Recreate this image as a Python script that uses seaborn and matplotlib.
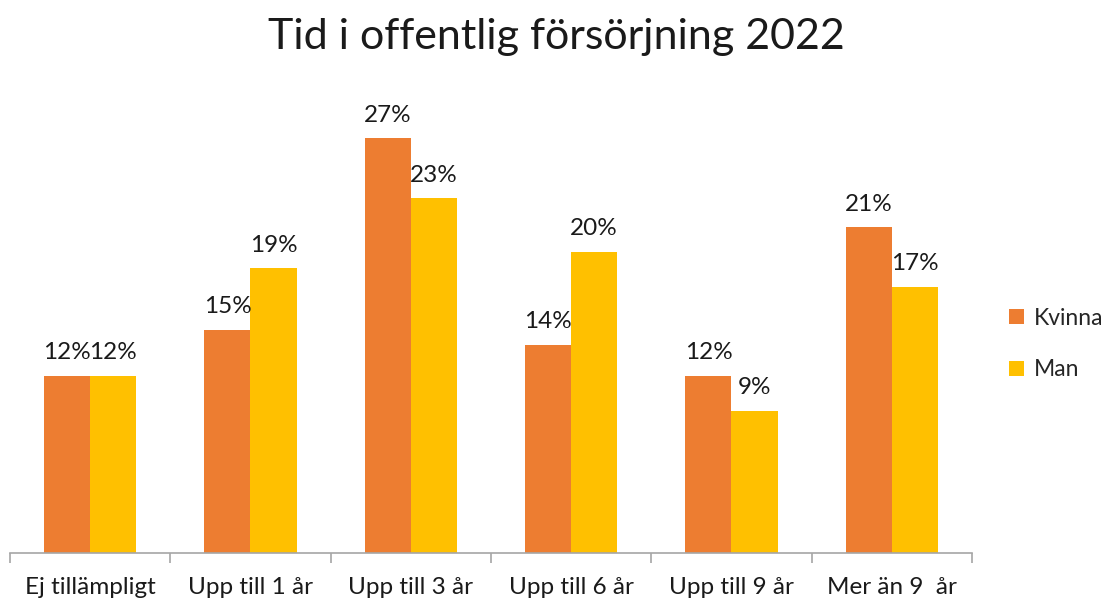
import pandas as pd
import matplotlib
matplotlib.use("Agg")
import matplotlib.pyplot as plt
import seaborn as sns

# ── Data ──────────────────────────────────────────────────────────────────────
kategorier = ["Ej tillämpligt", "Upp till 1 år", "Upp till 3 år",
              "Upp till 6 år", "Upp till 9 år", "Mer än 9  år"]
kvinna = [11.6, 14.6, 27.1, 13.6, 11.6, 21.3]
man    = [11.6, 18.6, 23.2, 19.7, 9.3, 17.4]
serier = ["Kvinna", "Man"]
farger = ["#ED7D31", "#FFC000"]

df = pd.DataFrame({
    "kategori": kategorier * 2,
    "kon": [serier[0]] * len(kvinna) + [serier[1]] * len(man),
    "andel": kvinna + man,
})

sns.set_theme(style="white")
plt.rcParams["font.family"] = ["Lato", "DejaVu Sans"]

fig = plt.figure(figsize=(11.12, 6.04), dpi=100)
ax = fig.add_axes([10 / 1112, 51 / 604, 962 / 1112, 443 / 604])

sns.barplot(data=df, x="kategori", y="andel", hue="kon", palette=farger,
            width=0.574, ax=ax, errorbar=None, saturation=1, linewidth=0)

ax.set_xlim(-0.5, len(kategorier) - 0.5)
ax.set_ylim(0, 443 / 15.3)

for cont in ax.containers:
    vals = cont.datavalues
    ax.bar_label(cont, labels=[f"{round(v):d}%" for v in vals],
                 padding=9, fontsize=17.5, color="#1a1a1a")

# axis
for s in ["top", "right", "left"]:
    ax.spines[s].set_visible(False)
ax.spines["bottom"].set_color("#A6A6A6")
ax.spines["bottom"].set_linewidth(1.2)
ax.set_yticks([])
ax.set_xlabel("")
ax.set_ylabel("")
ax.set_xticks(range(len(kategorier)))
ax.set_xticklabels(kategorier, fontsize=17.5, color="#1a1a1a")
ax.tick_params(axis="x", which="major", bottom=False, length=0, pad=17)
ax.set_xticks([i - 0.5 for i in range(len(kategorier) + 1)], minor=True)
ax.tick_params(axis="x", which="minor", bottom=True, length=7, width=1.2,
               color="#A6A6A6", direction="out")

handles, labels = ax.get_legend_handles_labels()
ax.get_legend().remove()
fig.legend(handles, labels, loc="center left", bbox_to_anchor=(1009 / 1112, 1 - 344 / 604),
           frameon=False, fontsize=16.5, handlelength=0.65, handleheight=0.65,
           handletextpad=0.45, labelspacing=1.35, borderaxespad=0, borderpad=0)

fig.text(0.5, 1 - 37 / 604, "Tid i offentlig försörjning 2022", ha="center", va="center",
         fontsize=31, color="#1a1a1a")

fig.savefig("out.png", dpi=100)
